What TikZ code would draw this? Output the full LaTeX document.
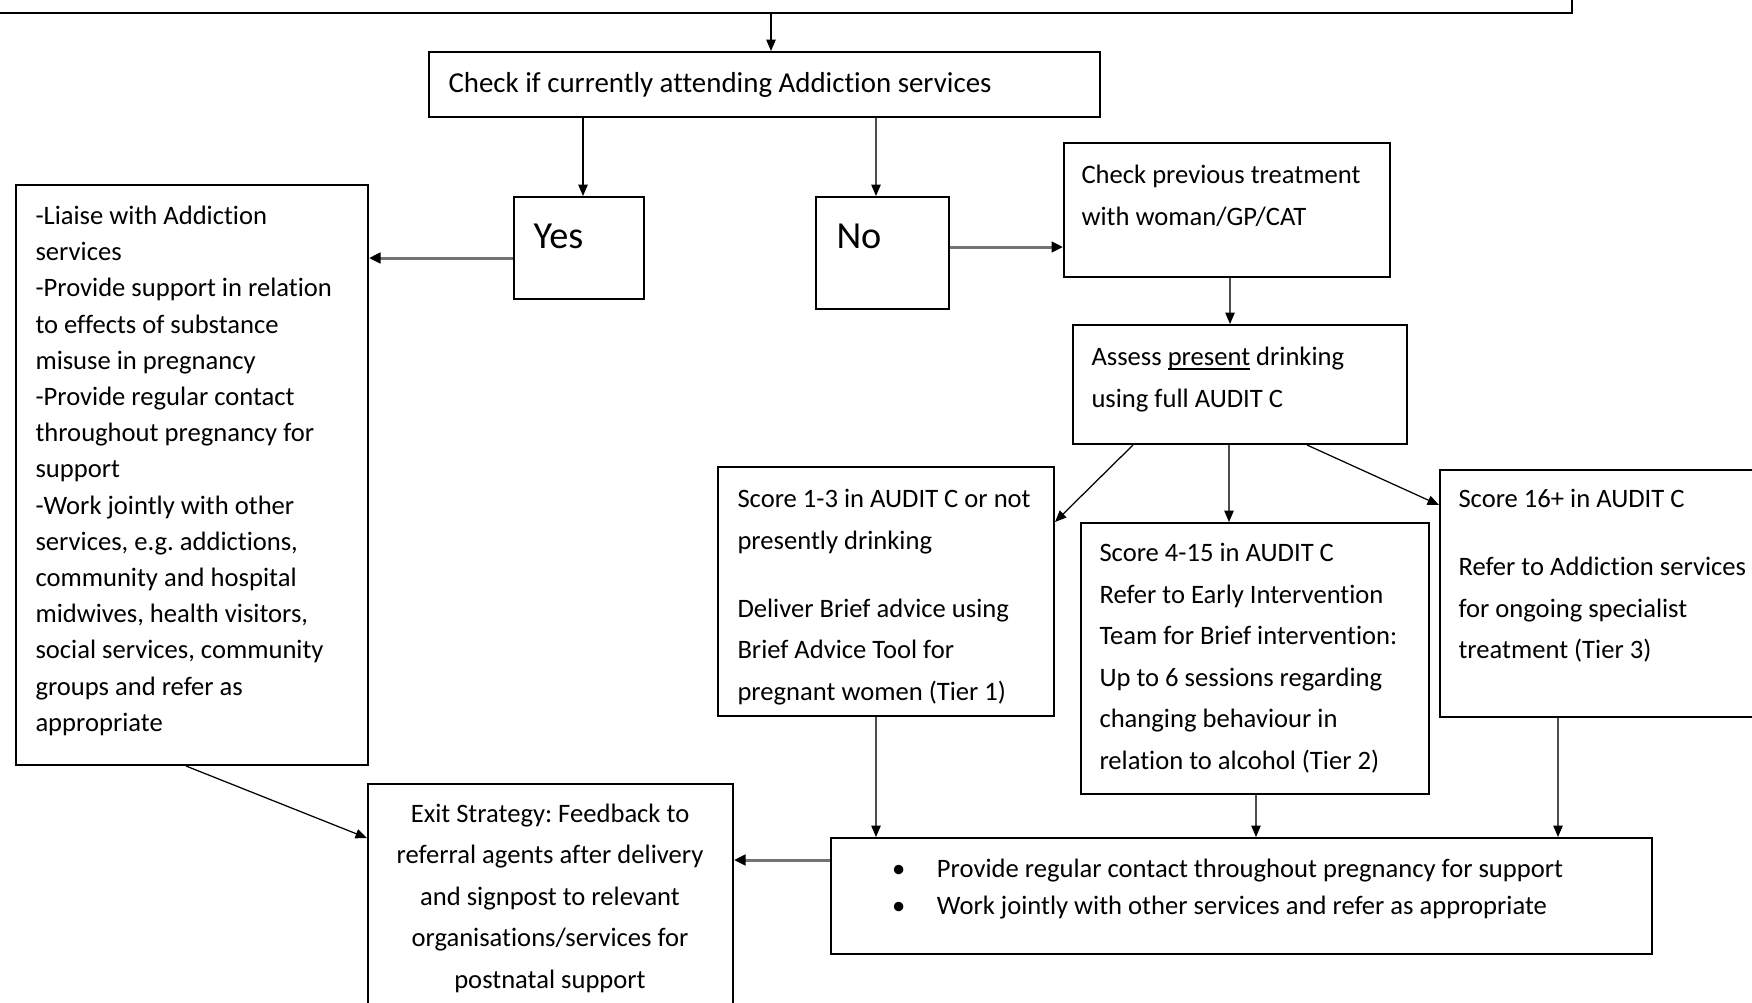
\documentclass[tikz,border=0pt]{standalone}
\usepackage{fontspec}
\setmainfont[Ligatures=NoCommon]{Carlito}
\usetikzlibrary{arrows.meta,fit}
\frenchspacing
\newcommand\fst{\rule{0pt}{12pt}}
\newcommand\myul[1]{\setbox0\hbox{#1}\rlap{\rule[-1.6pt]{\wd0}{0.5pt}}#1}
\newcommand\bul{\makebox[14.6pt][c]{\textbullet}\hspace{8pt}}
\begin{document}
\begin{tikzpicture}[x=0.4pt,y=-0.4pt,
  box/.style={draw,line width=0.8pt,inner sep=0pt,rectangle},
  arr/.style={line width=0.5pt,-{Triangle[length=4.6pt,width=3.8pt]}},
  garr/.style={arr,draw=black!70,-{Triangle[length=4.6pt,width=3.8pt,color=black]}},
  harr/.style={line width=1.2pt,draw=black!55,-{Triangle[length=4.6pt,width=4.2pt,color=black]}},
  txt/.style={inner sep=0pt,anchor=north west,align=left,font=\fontsize{10.64pt}{16.6pt}\selectfont},
  one/.style={inner sep=0pt,anchor=base west},
]
\useasboundingbox (0,0) rectangle (1752,1002);
\clip (0,0) rectangle (1752,1002);

% boxes
\node[box,fit={(-20,-60) (1572,13)}] (top) {};
\node[box,fit={(429,52) (1100,117)}] (check) {};
\node[box,fit={(514,197) (644,299)}] (yes) {};
\node[box,fit={(816,197) (949,309)}] (no) {};
\node[box,fit={(1064,143) (1390,277)}] (prev) {};
\node[box,fit={(16,185) (368,765)}] (left) {};
\node[box,fit={(1073,325) (1407,444)}] (assess) {};
\node[box,fit={(718,467) (1054,716)}] (s13) {};
\node[box,fit={(1081,523) (1429,794)}] (s415) {};
\node[box,fit={(1440,470) (1775,717)}] (s16) {};
\node[box,fit={(368,784) (733,1030)}] (exit) {};
\node[box,fit={(831,838) (1652,954)}] (support) {};

% texts
\node[one,font=\fontsize{11.56pt}{14pt}\selectfont] (checkT) at (448,92) {Check if currently attending Addiction services};
\node[one,font=\fontsize{15.3pt}{18pt}\selectfont] (yesT) at (533,248) {Yes};
\node[one,font=\fontsize{15.3pt}{18pt}\selectfont] (noT) at (836,248) {No};
\node[txt] (prevT) at (1081,153) {\fst Check previous treatment\\with woman/GP/CAT};
\node[txt] (assessT) at (1091,335) {\fst Assess \myul{present} drinking\\using full AUDIT C};
\node[txt] (s13T) at (737,477) {\fst Score 1-3 in AUDIT C or not\\presently drinking\\[10.6pt]Deliver Brief advice using\\Brief Advice Tool for\\pregnant women (Tier 1)};
\node[txt] (s415T) at (1099,531) {\fst Score 4-15 in AUDIT C\\Refer to Early Intervention\\Team for Brief intervention:\\Up to 6 sessions regarding\\changing behaviour in\\relation to alcohol (Tier 2)};
\node[txt] (s16T) at (1458,477) {\fst Score 16+ in AUDIT C\\[10.6pt]Refer to Addiction services\\for ongoing specialist\\treatment (Tier 3)};
\node[txt,font=\fontsize{10.64pt}{14.48pt}\selectfont] (leftT) at (35,194) {\fst -Liaise with Addiction\\services\\-Provide support in relation\\to effects of substance\\misuse in pregnancy\\-Provide regular contact\\throughout pregnancy for\\support\\-Work jointly with other\\services, e.g. addictions,\\community and hospital\\midwives, health visitors,\\social services, community\\groups and refer as\\appropriate};
\node[txt,anchor=north,align=center,font=\fontsize{10.64pt}{16.56pt}\selectfont] (exitT) at (550,792) {\fst Exit Strategy: Feedback to\\referral agents after delivery\\and signpost to relevant\\organisations/services for\\postnatal support};
\node[txt,font=\fontsize{10.64pt}{14.9pt}\selectfont] (supT) at (880,847) {\fst\bul Provide regular contact throughout pregnancy for support\\\bul Work jointly with other services and refer as appropriate};

% connectors
\draw[arr] (771,0 |- top.south) -- (771,0 |- check.north);
\draw[arr] (583,0 |- check.south) -- (583,0 |- yes.north);
\draw[garr] (876,0 |- check.south) -- (876,0 |- no.north);
\draw[harr] (yes.west |- 0,258) -- (left.east |- 0,258);
\draw[harr] (no.east |- 0,247) -- (prev.west |- 0,247);
\draw[garr] (1230,0 |- prev.south) -- (1230,0 |- assess.north);
\draw[arr] (1133,0 |- assess.south) -- (s13.east |- 0,522);
\draw[garr] (1229,0 |- assess.south) -- (1229,0 |- s415.north);
\draw[arr] (1307,0 |- assess.south) -- (s16.west |- 0,505);
\draw[arr] (186,0 |- left.south) -- (exit.west |- 0,838);
\draw[garr] (876,0 |- s13.south) -- (876,0 |- support.north);
\draw[garr] (1256,0 |- s415.south) -- (1256,0 |- support.north);
\draw[garr] (1558,0 |- s16.south) -- (1558,0 |- support.north);
\draw[harr] (support.west |- 0,860) -- (exit.east |- 0,860);
\end{tikzpicture}
\end{document}
